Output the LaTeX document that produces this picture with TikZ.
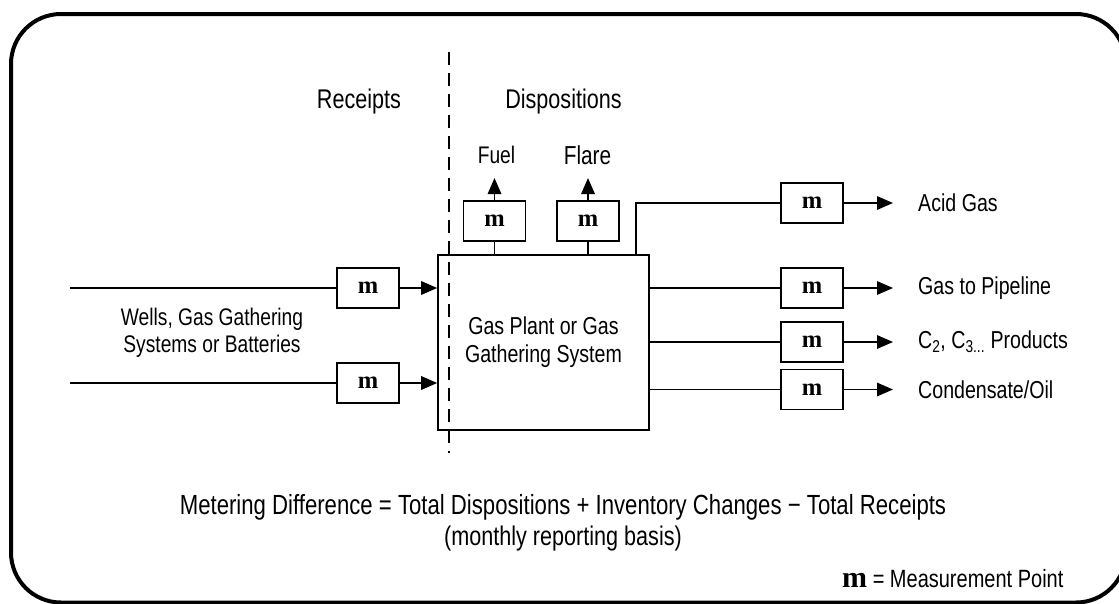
\documentclass[tikz,border=0pt]{standalone}
\usepackage{fontspec}
\setmainfont{Liberation Sans}[FakeStretch=0.8]
\newfontfamily\mfont{Liberation Serif}
\usetikzlibrary{arrows.meta}

\begin{document}
\begin{tikzpicture}[x=1pt,y=-1pt]
	\tikzstyle{ln} = [line width=1.6pt]
	\tikzstyle{ar} = [line width=1.6pt, -{Triangle[length=16pt,width=13.5pt]}]
	\tikzstyle{mb} = [draw, line width=1.6pt, minimum width=62pt, minimum height=40pt, inner sep=0pt, font=\mfont\bfseries\fontsize{24.5}{24.5}\selectfont]
	\tikzstyle{big} = [inner sep=0pt, font=\fontsize{27}{31}\selectfont]
	\tikzstyle{outlbl} = [anchor=west, inner ysep=0pt, inner xsep=25pt, font=\fontsize{24.5}{28}\selectfont]
	\useasboundingbox (0,0) rectangle (1119,603);
	\draw[line width=4pt, rounded corners=50pt] (11,14) rectangle (1126,602.5);

	\node[big, anchor=base] (rec) at (359,108) {Receipts};
	\node[big, anchor=base] (disp) at (563.5,108) {Dispositions};
	\coordinate (dtop) at (449,52);
	\coordinate (dbot) at (449,453);

	\node[draw, ln, minimum width=211pt, minimum height=175pt, align=center, font=\fontsize{24.5}{28}\selectfont] (plant) at (543.5,342.5) {Gas Plant or Gas\\Gathering System};
	\draw[line width=1.4pt, dash pattern=on 13pt off 8pt] (dtop) -- (dbot);

	% receipts
	\node[align=center, font=\fontsize{24}{27}\selectfont] (wells) at (212,333) {Wells, Gas Gathering\\Systems or Batteries};
	\coordinate (w1) at (70,288);
	\coordinate (w2) at (70,383);
	\node[mb] (in1) at (368,288) {m};
	\node[mb] (in2) at (368,383) {m};
	\draw[ln] (w1) -- (in1);
	\draw[ln] (w2) -- (in2);
	\draw[ar] (in1) -- (in1 -| plant.west);
	\draw[ar] (in2) -- (in2 -| plant.west);

	% fuel and flare
	\node[mb] (fuel) at (494.5,221) {m};
	\node[mb] (flare) at (588,221) {m};
	\node[anchor=base, inner sep=0pt, font=\fontsize{24}{28}\selectfont] (fuellbl) at (496.5,163) {Fuel};
	\node[anchor=base, inner sep=0pt, font=\fontsize{26}{30}\selectfont] (flarelbl) at (587.5,164) {Flare};
	\coordinate (fueltip) at (494.5,178);
	\coordinate (flaretip) at (588,178);
	\draw[ln] (fuel) -- (fuel |- plant.north);
	\draw[ln] (flare) -- (flare |- plant.north);
	\draw[ar] (fuel) -- (fueltip);
	\draw[ar] (flare) -- (flaretip);

	% dispositions
	\node[mb] (acid) at (812,203) {m};
	\node[mb] (pipe) at (812,288) {m};
	\node[mb] (prod) at (812,342) {m};
	\node[mb] (cond) at (812,389.5) {m};
	\coordinate (ac) at (636,255);
	\draw[ln] (ac) |- (acid);
	\draw[ln] (pipe -| plant.east) -- (pipe);
	\draw[ln] (prod -| plant.east) -- (prod);
	\draw[ln] (cond -| plant.east) -- (cond);
	\node[outlbl] (acidlbl) at (893,203) {Acid Gas};
	\node[outlbl] (pipelbl) at (893,288) {Gas to Pipeline};
	\node[outlbl] (prodlbl) at (893,342) {C\textsubscript{2}, C\textsubscript{3...} Products};
	\node[outlbl] (condlbl) at (893,389.5) {Condensate/Oil};
	\foreach \n in {acid,pipe,prod,cond}
		\draw[ar] (\n) -- (\n lbl.west);

	% balance
	\node[big, anchor=base, font=\fontsize{27.7}{31}\selectfont] (formula) at (563,514) {Metering Difference = Total Dispositions + Inventory Changes − Total Receipts};
	\node[big, anchor=base] (basis) at (563,545) {(monthly reporting basis)};
	\node[anchor=base west, inner sep=0pt, font=\fontsize{25}{28}\selectfont] (legend) at (842,587) {{\mfont\bfseries\fontsize{30}{30}\selectfont m} = Measurement Point};
\end{tikzpicture}
\end{document}
